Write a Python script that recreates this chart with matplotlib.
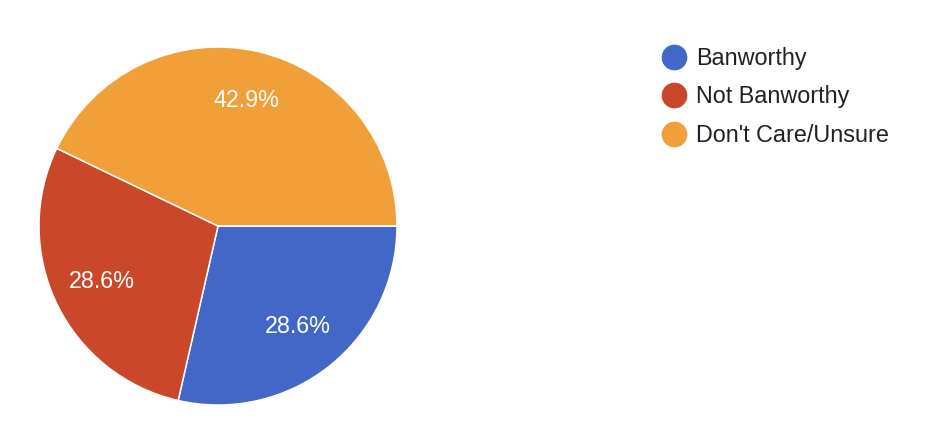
import matplotlib
matplotlib.use("Agg")
import matplotlib.pyplot as plt
from matplotlib.lines import Line2D

categories = ["Banworthy", "Not Banworthy", "Don't Care/Unsure"]
values = [28.6, 28.6, 42.9]
colors = ["#4267C7", "#CB4729", "#F09F39"]

plt.rcParams['font.family'] = ['Liberation Sans', 'DejaVu Sans']

W, H = 936, 444
fig = plt.figure(figsize=(W / 100, H / 100), dpi=100)
cx, cy, r = 218, 226, 179
ax = fig.add_axes([(cx - r) / W, (H - cy - r) / H, 2 * r / W, 2 * r / H])
wedges, texts, autotexts = ax.pie(
    values, colors=colors, startangle=0, counterclock=False,
    autopct='%1.1f%%', pctdistance=0.72,
    wedgeprops=dict(edgecolor='white', linewidth=1.1),
    textprops=dict(color='white', fontsize=16.8))
ax.set_xlim(-1, 1)
ax.set_ylim(-1, 1)
ax.set_aspect('auto')
ax.axis('off')

handles = [Line2D([0], [0], marker='o', linestyle='none', markersize=17.5,
                  markerfacecolor=c, markeredgecolor=c) for c in colors]
fig.legend(handles, categories, loc='upper left',
           bbox_to_anchor=(662 / W, 1 - 47 / H), frameon=False,
           fontsize=16.8, handlelength=1.0, handletextpad=0.45,
           labelspacing=0.66, borderpad=0, borderaxespad=0,
           labelcolor='#212121')

fig.savefig("out.png", dpi=100)
